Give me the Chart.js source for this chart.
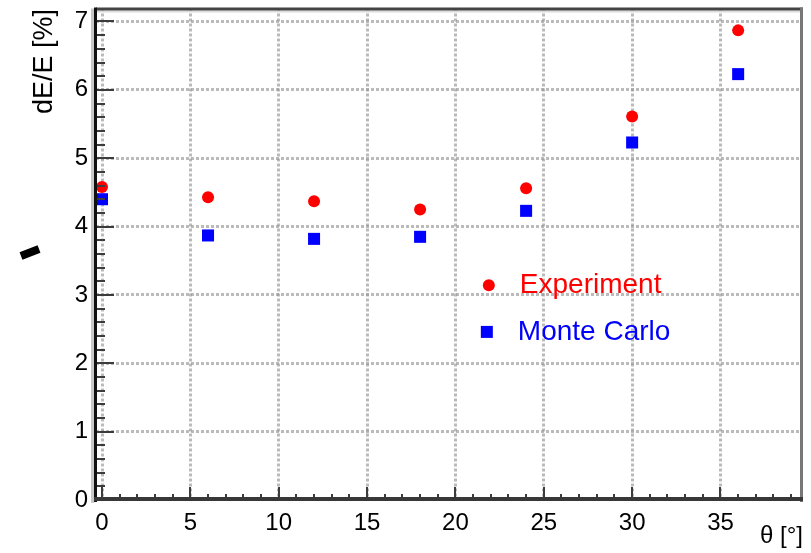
<!DOCTYPE html>
<html>
<head>
<meta charset="utf-8">
<script src="https://cdn.jsdelivr.net/npm/chart.js@4/dist/chart.umd.min.js"></script>
<style>
  html, body { margin: 0; padding: 0; background: #fff; }
  #wrap { width: 811px; height: 553px; }
</style>
</head>
<body>
<div id="wrap"><canvas id="resChart" width="811" height="553"></canvas></div>
<script>
// Energy resolution vs. angle
const thetaDeg = [0, 6, 12, 18, 24, 30, 36];
const experiment = [4.58, 4.43, 4.37, 4.25, 4.56, 5.61, 6.87];
const monteCarlo = [4.40, 3.87, 3.82, 3.85, 4.23, 5.23, 6.23];

const seriesNames = ['Experiment', 'Monte Carlo'];
const seriesColors = ['#ff0000', '#0000ff'];

// tick values: labelled majors and unlabelled minors
const xTicks = Array.from({ length: 40 }, (_, i) => i);            // 0 .. 39
const yTicks = Array.from({ length: 36 }, (_, i) => Math.round(i * 2) / 10); // 0 .. 7 by 0.2
const xMajorStep = 5;

const FONT = '"Liberation Sans", Arial, sans-serif';
const GRID = 'rgba(150,150,150,0.65)';

function toPoints(xs, ys) {
    return xs.map((x, i) => ({ x: x, y: ys[i] }));
}

// frame, inner ticks, legend and axis titles
const framePlugin = {
    id: 'frame',
    afterDatasetsDraw(chart) {
        const { ctx, chartArea: a, scales } = chart;
        const xs = scales.x, ys = scales.y;
        ctx.save();

        // inner tick marks
        ctx.strokeStyle = '#3c3c3c';
        ctx.lineWidth = 2;
        xs.ticks.forEach(t => {
            const px = Math.round(xs.getPixelForValue(t.value));
            const len = t.value % xMajorStep === 0 ? 13 : 6;
            ctx.beginPath();
            ctx.moveTo(px, a.bottom);
            ctx.lineTo(px, a.bottom - len);
            ctx.stroke();
        });
        ys.ticks.forEach(t => {
            const py = Math.round(ys.getPixelForValue(t.value));
            const len = Number.isInteger(t.value) ? 18 : 9;
            ctx.beginPath();
            ctx.moveTo(a.left, py);
            ctx.lineTo(a.left + len, py);
            ctx.stroke();
        });

        // box
        ctx.fillStyle = '#dcdcdc';
        ctx.fillRect(a.left, a.top + 2, a.right - a.left, 2);
        ctx.fillStyle = '#444';
        ctx.fillRect(a.left, a.top - 1, a.right - a.left + 3, 3);
        ctx.fillStyle = '#777';
        ctx.fillRect(a.right, a.top - 1, 3, a.bottom - a.top + 3);
        ctx.fillStyle = '#c8c8c8';
        ctx.fillRect(a.left - 5, a.top, 3, a.bottom - a.top + 3);
        ctx.fillStyle = '#111';
        ctx.fillRect(a.left - 2, a.top - 1, 3, a.bottom - a.top + 3);
        ctx.fillStyle = '#383838';
        ctx.fillRect(a.left - 2, a.bottom - 3, a.right - a.left + 5, 4);

        // legend
        const h = a.bottom - a.top;
        const lx = a.left + (a.right - a.left) * 0.558;
        const ly = [a.top + h * 0.563, a.top + h * 0.658];
        ctx.font = '28px ' + FONT;
        ctx.textBaseline = 'middle';
        ctx.textAlign = 'left';
        ctx.fillStyle = seriesColors[0];
        ctx.beginPath();
        ctx.arc(lx, ly[0], 6, 0, Math.PI * 2);
        ctx.fill();
        ctx.fillText(seriesNames[0], lx + 31, ly[0]);
        ctx.fillStyle = seriesColors[1];
        ctx.fillRect(lx - 8, ly[1] - 6, 12, 12);
        ctx.fillText(seriesNames[1], lx + 29, ly[1]);

        // axis titles
        ctx.fillStyle = '#000';
        ctx.font = '24px ' + FONT;
        ctx.textAlign = 'right';
        ctx.textBaseline = 'alphabetic';
        ctx.fillText('\u03b8 [\u00b0]', a.right + 3, 543);

        ctx.save();
        ctx.translate(52, a.top + 53);
        ctx.rotate(-Math.PI / 2);
        ctx.textAlign = 'center';
        ctx.font = '27px ' + FONT;
        ctx.fillText('dE/E [%]', 0, 0);
        ctx.restore();

        // stray stroke left of the axis
        ctx.strokeStyle = '#000';
        ctx.lineWidth = 8;
        ctx.beginPath();
        ctx.moveTo(21, 256);
        ctx.lineTo(39, 249);
        ctx.stroke();

        ctx.restore();
    }
};

const ctx = document.getElementById('resChart').getContext('2d');
new Chart(ctx, {
    type: 'scatter',
    data: {
        datasets: [{
            label: seriesNames[0],
            data: toPoints(thetaDeg, experiment),
            pointStyle: 'circle',
            pointRadius: 6,
            pointBackgroundColor: seriesColors[0],
            pointBorderWidth: 0,
            clip: false
        }, {
            label: seriesNames[1],
            data: toPoints(thetaDeg, monteCarlo),
            pointStyle: 'rect',
            pointRadius: 8.5,
            pointBackgroundColor: seriesColors[1],
            pointBorderWidth: 0,
            clip: false
        }]
    },
    options: {
        responsive: false,
        animation: false,
        events: [],
        layout: { padding: { top: 8, right: 11, bottom: 0, left: 0 } },
        plugins: {
            legend: { display: false },
            tooltip: { enabled: false }
        },
        scales: {
            x: {
                type: 'linear',
                min: -0.34,
                max: 39.5,
                afterBuildTicks: s => { s.ticks = xTicks.map(v => ({ value: v })); },
                afterFit: s => { s.height = 53; s.paddingLeft = 0; s.paddingRight = 0; },
                border: { display: false, dash: [3, 2] },
                grid: {
                    drawTicks: false,
                    lineWidth: 3,
                    color: c => (c.tick && c.tick.value % xMajorStep === 0) ? GRID : 'rgba(0,0,0,0)'
                },
                ticks: {
                    autoSkip: false,
                    maxRotation: 0,
                    padding: 9,
                    color: '#000',
                    font: { family: FONT, size: 24 },
                    callback: v => v % xMajorStep === 0 ? String(v) : ''
                }
            },
            y: {
                type: 'linear',
                min: 0,
                max: 7.19,
                afterBuildTicks: s => { s.ticks = yTicks.map(v => ({ value: v })); },
                afterFit: s => { s.width = 96; s.paddingTop = 0; s.paddingBottom = 0; },
                border: { display: false, dash: [3, 2] },
                grid: {
                    drawTicks: false,
                    lineWidth: 3,
                    color: c => (c.tick && Number.isInteger(c.tick.value) && c.tick.value > 0) ? GRID : 'rgba(0,0,0,0)'
                },
                ticks: {
                    autoSkip: false,
                    padding: 8,
                    color: '#000',
                    font: { family: FONT, size: 24 },
                    callback: v => Number.isInteger(v) ? String(v) : ''
                }
            }
        }
    },
    plugins: [framePlugin]
});
</script>
</body>
</html>
